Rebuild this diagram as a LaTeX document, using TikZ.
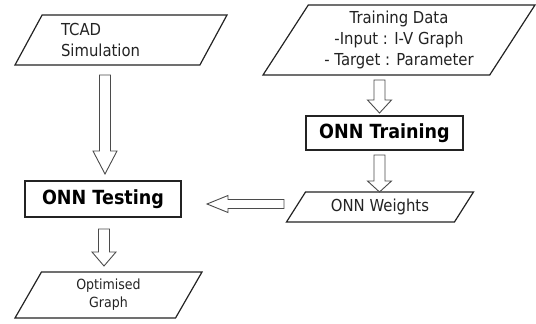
\documentclass[tikz,border=0pt]{standalone}
\usepackage{fontspec}
\setmainfont{DejaVu Sans}[FakeStretch=0.9]
\usetikzlibrary{shapes.geometric, positioning, calc}
\definecolor{lineColor}{RGB}{35,35,35}
\definecolor{arrowColor}{RGB}{75,75,75}
\tikzstyle{io} = [trapezium, trapezium stretches body, draw=lineColor, line width=1.2pt, inner sep=0pt, outer sep=0pt, text=lineColor, font=\fontsize{16.5}{21}\selectfont]
\tikzstyle{process} = [rectangle, draw=lineColor, line width=1.2pt, inner sep=0pt, outer sep=0pt, text=black, font=\bfseries\fontsize{19.5}{23}\selectfont]
\tikzstyle{blockarrow} = [draw=arrowColor, line width=0.9pt, fill=white, line join=miter]

% hollow block arrow going down: #1 head length, #2 start, #3 tip
\newcommand{\downblock}[3][14]{%
  \draw[blockarrow] let \p1=#2, \p2=#3 in
    (\x1-5.5pt,\y1) -- (\x1+5.5pt,\y1) -- (\x1+5.5pt,\y2+#1pt) -- (\x1+12pt,\y2+#1pt)
    -- (\x1,\y2) -- (\x1-12pt,\y2+#1pt) -- (\x1-5.5pt,\y2+#1pt) -- cycle;}
% hollow block arrow going left
\newcommand{\leftblock}[3][20]{%
  \draw[blockarrow] let \p1=#2, \p2=#3 in
    (\x1,\y2+4.5pt) -- (\x2+#1pt,\y2+4.5pt) -- (\x2+#1pt,\y2+8.5pt) -- (\x2,\y2)
    -- (\x2+#1pt,\y2-8.5pt) -- (\x2+#1pt,\y2-4.5pt) -- (\x1,\y2-4.5pt) -- cycle;}

\begin{document}
\begin{tikzpicture}[x=1pt, y=-1pt]
			\useasboundingbox (0,0) rectangle (536,324);

			\node (tcad) [io, trapezium left angle=51, trapezium right angle=129, minimum width=212pt, minimum height=50pt, text width=120pt, align=left] at (121,40) {TCAD\\Simulation};
			\node (data) [io, trapezium left angle=52, trapezium right angle=128, minimum width=272pt, minimum height=70pt, align=center] at (399,40) {Training Data\\-Input : I-V Graph\\- Target : Parameter};
			\node (train) [process, minimum width=157pt, minimum height=34pt] at (384.5,133) {ONN Training};
			\node (weights) [io, below=42pt of train, xshift=-4.5pt, trapezium left angle=40, trapezium right angle=140, minimum width=187pt, minimum height=30pt] {ONN Weights};
			\node (testing) [process, minimum width=156pt, minimum height=36pt] at (103,199) {ONN Testing};
			\node (opt) [io, trapezium left angle=50, trapezium right angle=130, minimum width=187pt, minimum height=46pt, align=center, font=\fontsize{14}{18}\selectfont] at (108.5,295) {Optimised\\Graph};
			\coordinate (wtip) at ($(testing.east)+(26,5)$);

			\downblock[23]{($(tcad.south -| testing.north)+(2,10)$)}{($(testing.north)+(0,-7)$)}
			\downblock[13]{($(data.south -| train.north)+(-5,5)$)}{($(train.north)+(0,-3)$)}
			\downblock[11]{($(train.south)+(-5,5)$)}{(weights.north)}
			\downblock[14]{($(testing.south)+(1,12)$)}{($(opt.north)+(0,-6)$)}
			\leftblock[21]{($(weights.west |- wtip)+(-12,0)$)}{(wtip)}
\end{tikzpicture}
\end{document}
